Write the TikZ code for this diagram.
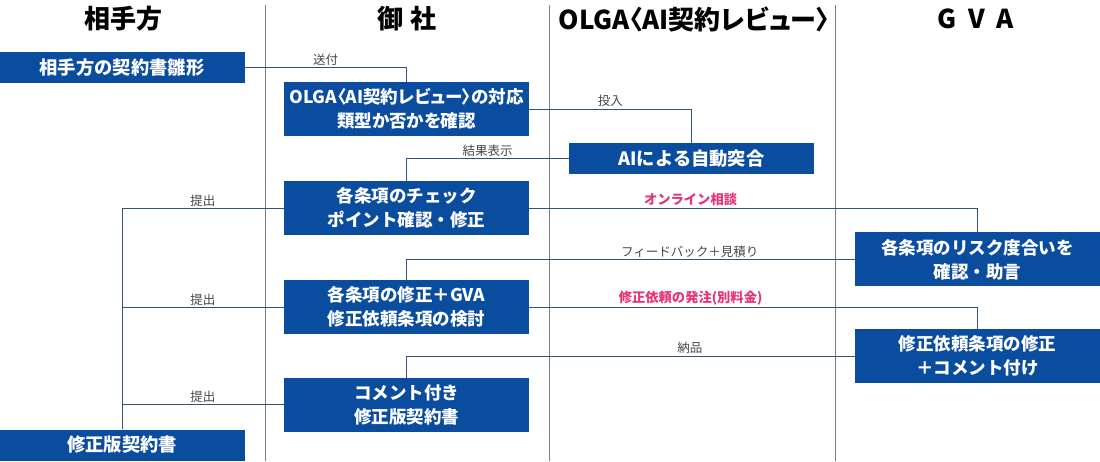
\documentclass[tikz,border=0pt]{standalone}
\usepackage{fontspec}
\newfontfamily\jp{Noto Sans CJK JP}
\newfontfamily\jpp[RawFeature=+palt]{Noto Sans CJK JP}
\definecolor{boxblue}{RGB}{10,77,158}
\definecolor{linkblue}{RGB}{52,82,122}
\definecolor{lanegray}{RGB}{125,125,125}
\definecolor{lblgray}{RGB}{70,70,70}
\definecolor{hotpink}{RGB}{228,52,122}
\begin{document}
\begin{tikzpicture}[x=1pt,y=-1pt,
    box/.style={fill=boxblue,text=white,font=\jp\bfseries\fontsize{17.5}{24}\selectfont,
      align=center,minimum width=245pt,minimum height=54pt,inner sep=0pt},
    slim/.style={box,minimum height=31pt,font=\jp\bfseries\fontsize{18.3}{24}\selectfont},
    head/.style={font=\jp\bfseries\fontsize{26}{30}\selectfont},
    lane/.style={draw=lanegray,line width=1pt},
    link/.style={draw=linkblue,line width=1pt},
    lbl/.style={font=\jp\fontsize{12.5}{14}\selectfont,text=lblgray,anchor=south,inner sep=1.5pt},
    hot/.style={lbl,font=\jp\bfseries\fontsize{13.3}{15}\selectfont,text=hotpink}]
  \useasboundingbox (0,0) rectangle (1100,461);
  % lanes
  \foreach \x in {265,549,835}
    \draw[lane] (\x,5) -- (\x,461);
  \node[head] (h1) at (123,19) {相手方};
  \node[head] (h2) at (407,19) {御\hspace{0.3em}社};
  \node[head,font=\jpp\bfseries\fontsize{26}{30}\selectfont] (h3) at (694,19) {OLGA〈AI契約レビュー〉};
  \node[head] (h4) at (976,19) {G\hspace{0.45em}V\hspace{0.45em}A};
  % steps
  \node[slim] (src) at (122,67.5) {相手方の契約書雛形};
  \node[box,font=\jpp\bfseries\fontsize{17.5}{24}\selectfont] (olga) at (406.5,109)
    {OLGA〈AI契約レビュー〉の対応\\類型か否かを確認};
  \node[slim] (ai) at (691.5,158.5) {AIによる自動突合};
  \node[box] (chk) at (406.5,208) {各条項のチェック\\ポイント確認・修正};
  \node[box] (mod) at (406.5,307) {各条項の修正＋GVA\\修正依頼条項の検討};
  \node[box] (cmt) at (406.5,404.7) {コメント付き\\修正版契約書};
  \node[slim] (rev) at (122,445) {修正版契約書};
  \node[box] (risk) at (977.5,259.4) {各条項のリスク度合いを\\確認・助言};
  \node[box] (fix) at (977.5,356) {修正依頼条項の修正\\＋コメント付け};
  % links
  \begin{scope}[link]
    \draw (src.east) -| node[lbl,pos=0.25]{送付} (olga.north);
    \draw (olga.east) -| node[lbl,pos=0.25]{投入} (ai.north);
    \draw (ai.west) -| node[lbl,pos=0.25]{結果表示} (chk.north);
    \draw (chk.west) -| node[lbl,pos=0.25]{提出} (rev.north);
    \draw (mod.west) -- node[lbl]{提出} (mod.west -| rev.north);
    \draw (cmt.west) -- node[lbl]{提出} (cmt.west -| rev.north);
    \draw (chk.east) -| node[hot,pos=0.18]{オンライン相談} (risk.north);
    \draw (risk.west) -| node[lbl,pos=0.184]{フィードバック＋見積り} (mod.north);
    \draw (mod.east) -| node[hot,pos=0.18]{修正依頼の発注(別料金)} (fix.north);
    \draw (fix.west) -| node[lbl,pos=0.184]{納品} (cmt.north);
  \end{scope}
\end{tikzpicture}
\end{document}
